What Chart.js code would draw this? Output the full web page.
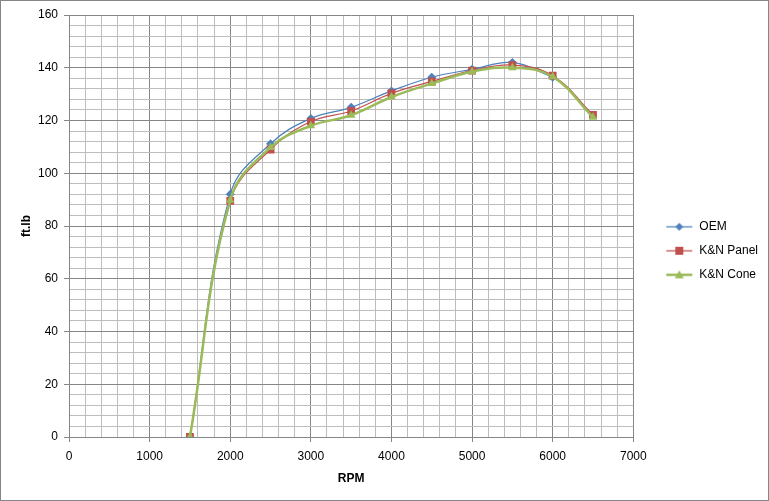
<!DOCTYPE html>
<html lang="en">
<head>
    <meta charset="UTF-8">
    <title>Torque curves</title>
    <script src="https://cdn.jsdelivr.net/npm/chart.js"></script>
    <style>
        body { margin: 0; background: #fff; }
        #frame { width: 769px; height: 501px; box-sizing: border-box; border: 1px solid #868686; }
        #wrap { width: 767px; height: 499px; position: relative; }
    </style>
</head>
<body>
    <div id="frame"><div id="wrap"><canvas id="torqueChart"></canvas></div></div>
    <script>
        const rpm = [1500, 2000, 2500, 3000, 3500, 4000, 4500, 5000, 5500, 6000, 6500];
        const oem = [0, 92, 111.2, 120.8, 125, 131.2, 136.4, 139.4, 142, 136.4, null];
        const knPanel = [0, 89.5, 109, 119.6, 123.6, 130.3, 134.8, 138.9, 141, 137, 122.1];
        const knCone = [0, 89.8, 109.8, 118, 122, 128.9, 134, 138.5, 140, 136.6, 121.2];

        const xTicks = [0, 1000, 2000, 3000, 4000, 5000, 6000, 7000];
        const yTicks = [0, 20, 40, 60, 80, 100, 120, 140, 160];

        const MAJOR = '#868686';
        const MINOR = '#bdbdbd';
        const font = { family: '"Liberation Sans", Arial, sans-serif', size: 12 };

        function points(ys) {
            return rpm.map((x, i) => ({ x: x, y: ys[i] }));
        }

        // small picture of line + marker for the legend, like Excel
        function legendIcon(color, style, lw) {
            const c = document.createElement('canvas');
            c.width = 28; c.height = 12;
            const g = c.getContext('2d');
            g.strokeStyle = color; g.fillStyle = color; g.lineWidth = lw;
            g.beginPath(); g.moveTo(1, 6); g.lineTo(27, 6); g.stroke();
            g.beginPath();
            if (style === 'rectRot') { g.moveTo(14, 2); g.lineTo(18, 6); g.lineTo(14, 10); g.lineTo(10, 6); }
            else if (style === 'rect') { g.rect(10, 2, 8, 8); }
            else { g.moveTo(14, 1.5); g.lineTo(18.5, 9.5); g.lineTo(9.5, 9.5); }
            g.closePath(); g.fill();
            return c;
        }

        const series = [
            { label: 'OEM', data: oem, color: '#4F81BD', style: 'rectRot', radius: 4.5, width: 1.25, order: 3 },
            { label: 'K&N Panel', data: knPanel, color: '#C0504D', style: 'rect', radius: 5.5, width: 1.25, order: 2 },
            { label: 'K&N Cone', data: knCone, color: '#9BBB59', style: 'triangle', radius: 5, width: 2.5, order: 1 }
        ];

        new Chart(document.getElementById('torqueChart'), {
            type: 'line',
            data: {
                datasets: series.map(s => ({
                    label: s.label,
                    data: points(s.data),
                    borderColor: s.color,
                    backgroundColor: s.color,
                    borderWidth: s.width,
                    pointStyle: s.style,
                    pointRadius: s.radius,
                    pointBorderWidth: 0,
                    pointBackgroundColor: s.color,
                    tension: 0.4,
                    spanGaps: false,
                    order: s.order,
                    icon: legendIcon(s.color, s.style, s.width > 2 ? 2.5 : 1.25)
                }))
            },
            options: {
                responsive: true,
                maintainAspectRatio: false,
                animation: false,
                layout: { padding: { left: 14.6, top: 14, bottom: 13.4, right: 0 } },
                plugins: {
                    tooltip: { enabled: false },
                    legend: {
                        position: 'right',
                        labels: {
                            font: font,
                            color: '#000',
                            usePointStyle: true,
                            pointStyleWidth: 28,
                            padding: 12,
                            generateLabels: chart => chart.data.datasets.map((ds, i) => ({
                                text: ds.label,
                                pointStyle: ds.icon,
                                fillStyle: ds.borderColor,
                                strokeStyle: ds.borderColor,
                                lineWidth: 0,
                                fontColor: '#000',
                                datasetIndex: i
                            }))
                        }
                    }
                },
                scales: {
                    x: {
                        type: 'linear',
                        min: 0,
                        max: 7000,
                        ticks: {
                            stepSize: 200,
                            autoSkip: false,
                            maxRotation: 0,
                            font: font,
                            color: '#000',
                            padding: 7,
                            callback: v => xTicks.includes(v) ? v : ''
                        },
                        grid: {
                            color: c => c.tick && c.tick.value % 1000 === 0 ? MAJOR : MINOR,
                            tickColor: c => c.tick && c.tick.value % 1000 === 0 ? MAJOR : 'rgba(0,0,0,0)',
                            tickLength: 5
                        },
                        border: { color: MAJOR },
                        title: {
                            display: true,
                            text: 'RPM',
                            font: { family: font.family, size: 12, weight: 'bold' },
                            color: '#000',
                            padding: { top: 1.4, bottom: 0.4 }
                        }
                    },
                    y: {
                        min: 0,
                        max: 160,
                        ticks: {
                            stepSize: 4,
                            autoSkip: false,
                            font: font,
                            color: '#000',
                            padding: 6,
                            callback: v => yTicks.includes(v) ? v : ''
                        },
                        grid: {
                            color: c => c.tick && c.tick.value % 20 === 0 ? MAJOR : MINOR,
                            tickColor: c => c.tick && c.tick.value % 20 === 0 ? MAJOR : 'rgba(0,0,0,0)',
                            tickLength: 5
                        },
                        border: { color: MAJOR },
                        title: {
                            display: true,
                            text: 'ft.lb',
                            font: { family: font.family, size: 12, weight: 'bold' },
                            color: '#000',
                            padding: { top: 4, bottom: -2 }
                        }
                    },
                    gap: {
                        // empty axis: keeps the space between plot and legend
                        position: 'right',
                        display: true,
                        ticks: { display: false },
                        grid: { display: false },
                        border: { display: false },
                        afterFit: s => { s.width = 20; }
                    }
                }
            }
        });
    </script>
</body>
</html>
